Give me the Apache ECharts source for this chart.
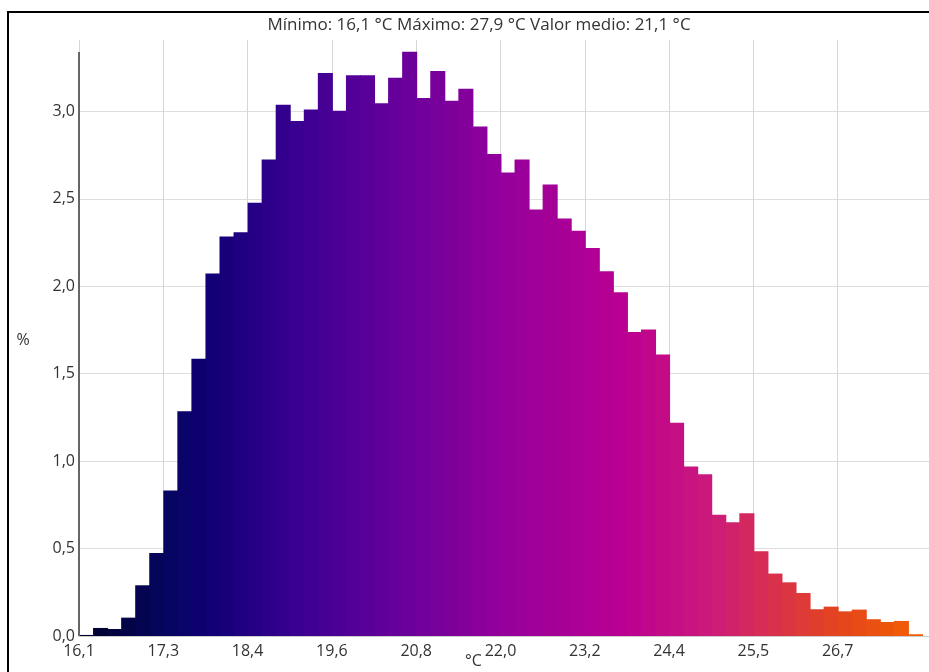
<!DOCTYPE html>
<html>
<head>
<meta charset="utf-8">
<script src="https://cdn.jsdelivr.net/npm/echarts@6/dist/echarts.min.js"></script>
<style>
html,body{margin:0;padding:0;background:#fff;}
#chart{width:929px;height:672px;}
</style>
</head>
<body>
<div id="chart"></div>
<script>
// ---- data ----
const titleText = 'Mínimo: 16,1 °C Máximo: 27,9 °C Valor medio: 21,1 °C';
const xAxisName = '°C';
const yAxisName = '%';
const binsPerTick = 6;
const xTickLabels = ['16,1', '17,3', '18,4', '19,6', '20,8', '22,0', '23,2', '24,4', '25,5', '26,7'];
const yTickValues = [0, 0.5, 1.0, 1.5, 2.0, 2.5, 3.0];
const binValues = [
  0.006, 0.046, 0.040, 0.105, 0.290, 0.475, 0.832, 1.285, 1.585, 2.073,
  2.285, 2.308, 2.477, 2.725, 3.038, 2.945, 3.011, 3.219, 3.003, 3.206,
  3.206, 3.047, 3.192, 3.341, 3.076, 3.231, 3.061, 3.129, 2.914, 2.756,
  2.651, 2.725, 2.439, 2.582, 2.388, 2.317, 2.218, 2.086, 1.965, 1.739,
  1.753, 1.610, 1.219, 0.969, 0.925, 0.694, 0.650, 0.702, 0.485, 0.357,
  0.307, 0.246, 0.153, 0.168, 0.141, 0.151, 0.096, 0.080, 0.086, 0.010
];
// colour ramp (position 0..1 -> colour)
const rampStops = [
  [0.00, '#00002a'],
  [0.10, '#06065e'],
  [0.15, '#0e0074'],
  [0.25, '#360090'],
  [0.35, '#5c009a'],
  [0.50, '#94009c'],
  [0.65, '#bc0092'],
  [0.75, '#cc1a7a'],
  [0.82, '#d8304e'],
  [0.90, '#e4441e'],
  [1.00, '#f26000']
];

function hexToRgb(h){h=h.replace('#','');return [parseInt(h.substr(0,2),16),parseInt(h.substr(2,2),16),parseInt(h.substr(4,2),16)];}
function rampColor(t){
  for(let i=0;i<rampStops.length-1;i++){
    const a=rampStops[i], b=rampStops[i+1];
    if(t>=a[0] && t<=b[0]){
      const f=(t-a[0])/(b[0]-a[0]);
      const ca=hexToRgb(a[1]), cb=hexToRgb(b[1]);
      const c=ca.map((v,k)=>Math.round(v+(cb[k]-v)*f));
      return 'rgb('+c.join(',')+')';
    }
  }
  return rampStops[rampStops.length-1][1];
}

const nBins = binValues.length;
const seriesData = binValues.map((v,i)=>({value:[i, v], itemStyle:{color:rampColor((i+0.5)/nBins)}}));
const xTickPositions = xTickLabels.map((_,i)=>i*binsPerTick);

const chart = echarts.init(document.getElementById('chart'), null, {renderer:'canvas'});
const fontFam = '"Open Sans", "Noto Sans", sans-serif';
const option = {
  animation:false,
  backgroundColor:'#fff',
  title:{
    text:titleText,
    left:474, top:12, textAlign:'center',
    textStyle:{fontFamily:fontFam, fontSize:17, fontWeight:'normal', color:'#333'}
  },
  grid:{left:79, right:0, top:40, bottom:36, containLabel:false},
  xAxis:{
    type:'value', min:0, max:nBins+0.5,
    axisLine:{show:true, onZero:false, lineStyle:{color:'#cccccc', width:1}},
    axisTick:{show:false, customValues:xTickPositions},
    axisLabel:{
      customValues:xTickPositions,
      margin:7,
      fontFamily:fontFam, fontSize:16, color:'#333',
      formatter:(v)=>{const i=Math.round(v/binsPerTick);return xTickLabels[i]||'';}
    },
    splitLine:{show:true, lineStyle:{color:'#d6d6d6', width:1}}
  },
  yAxis:{
    type:'value', min:0, max:3.408,
    axisLine:{show:false},
    axisTick:{show:false, customValues:yTickValues},
    axisLabel:{
      customValues:yTickValues,
      margin:4,
      fontFamily:fontFam, fontSize:16, color:'#333',
      formatter:(v)=>v.toFixed(1).replace('.',',')
    },
    splitLine:{show:true, lineStyle:{color:'#dedede', width:1}}
  },
  series:[{
    type:'custom',
    data:seriesData,
    renderItem:function(params, api){
      const i=api.value(0), v=api.value(1);
      const p0=api.coord([i, v]);
      const p1=api.coord([i+1, 0]);
      return {
        type:'rect',
        shape:{x:p0[0], y:p0[1], width:p1[0]-p0[0]+1, height:p1[1]-p0[1]},
        style:{fill:api.visual('color')}
      };
    },
    encode:{x:0, y:1}
  }]
};
chart.setOption(option);

// decorations: frame, y-axis line (to top of data range), axis names
const yTop = chart.convertToPixel({gridIndex:0}, [0, 3.34]);
const yBot = chart.convertToPixel({gridIndex:0}, [0, 0]);
const xMid = chart.convertToPixel({gridIndex:0}, [28, 0]);
chart.setOption({
  graphic:[
    {type:'rect', shape:{x:8, y:12, width:1000, height:1000}, style:{fill:null, stroke:'#000', lineWidth:2}, z:100},
    {type:'line', shape:{x1:yBot[0], y1:yTop[1], x2:yBot[0], y2:yBot[1]}, style:{stroke:'#666', lineWidth:2}, z:100},
    {type:'text', x:23, y:340, style:{text:yAxisName, fontFamily:fontFam, fontSize:16, fill:'#333', textAlign:'center', textVerticalAlign:'middle'}},
    {type:'text', x:xMid[0]+1, y:661, style:{text:xAxisName, fontFamily:fontFam, fontSize:16, fill:'#333', textAlign:'center', textVerticalAlign:'middle'}}
  ]
});
</script>
</body>
</html>
